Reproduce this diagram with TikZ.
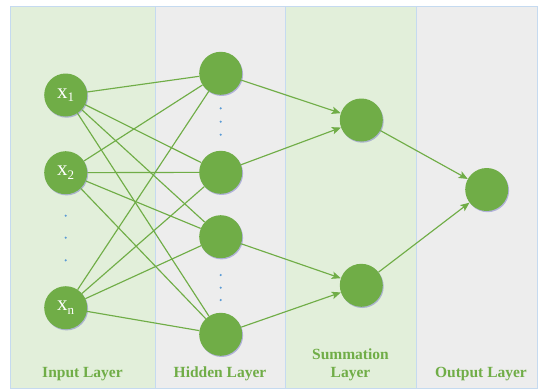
\documentclass[tikz,border=0pt]{standalone}
\usepackage{fontspec}
\setmainfont{Liberation Serif}
\usetikzlibrary{arrows.meta,shadows}
\definecolor{nodegreen}{HTML}{70AD47}
\definecolor{panelgreen}{HTML}{E2EFDA}
\definecolor{panelgray}{HTML}{EDEDED}
\definecolor{panelline}{HTML}{C5DAF0}
\definecolor{dotblue}{HTML}{5B9BD5}
\newcommand\inputlabel[1]{\fontsize{21}{21}\selectfont x\raisebox{-3.5pt}{\fontsize{13}{13}\selectfont #1}}
\begin{document}
\begin{tikzpicture}[x=1pt,y=-1pt,
  neuron/.style={circle, fill=nodegreen, minimum size=43pt, inner sep=0pt, text=white,
    drop shadow={shadow xshift=0.9pt, shadow yshift=-1.2pt, fill=blue!45!gray, opacity=0.35}},
  link/.style={draw=nodegreen, line width=1.15pt},
  flow/.style={link, -{Stealth[length=9pt,width=7.5pt,inset=2pt]}},
  layerlabel/.style={font=\fontsize{15.5}{16}\selectfont\bfseries, text=nodegreen, anchor=base},
  panel/.style={draw=panelline, line width=1pt}]
  \useasboundingbox[fill=white] (0,0) rectangle (538,391);

  % layer panels
  \fill[panelgreen] (10,6) rectangle (155,388);
  \fill[panelgray] (155,6) rectangle (285,388);
  \fill[panelgreen] (285,6) rectangle (416,388);
  \fill[panelgray] (416,6) rectangle (537,388);
  \draw[panel] (10,6) rectangle (537,388);
  \draw[panel] (155,6) -- (155,388);
  \draw[panel] (285,6) -- (285,388);
  \draw[panel] (416,6) -- (416,388);

  % neurons
  \node[neuron] (x1) at (65.7,95) {\inputlabel{1}};
  \node[neuron] (x2) at (65.7,172.7) {\inputlabel{2}};
  \node[neuron] (xn) at (65.7,307.7) {\inputlabel{n}};
  \node[neuron] (h1) at (220.7,73.3) {};
  \node[neuron] (h2) at (220.7,172.3) {};
  \node[neuron] (h3) at (220.7,236.7) {};
  \node[neuron] (h4) at (220.7,334.3) {};
  \node[neuron] (s1) at (361.3,120) {};
  \node[neuron] (s2) at (361.3,285.3) {};
  \node[neuron] (o) at (486.7,189.5) {};

  % ellipsis dots
  \foreach \y in {215.7,237.7,260.3} \fill[dotblue] (65.7,\y) circle (1.2pt);
  \foreach \y in {108.3,121.7,134.7} \fill[dotblue] (220.7,\y) circle (1.2pt);
  \foreach \y in {275,287.7,300} \fill[dotblue] (220.7,\y) circle (1.2pt);

  % input to hidden, fully connected
  \foreach \i in {x1,x2,xn}
    \foreach \h in {h1,h2,h3,h4}
      \draw[link] (\i) -- (\h);

  % hidden to summation
  \draw[flow] (h1) -- (s1);
  \draw[flow] (h2) -- (s1);
  \draw[flow] (h3) -- (s2);
  \draw[flow] (h4) -- (s2);

  % summation to output
  \draw[flow] (s1) -- (o);
  \draw[flow] (s2) -- (o);

  % layer captions
  \node[layerlabel] (lin) at (82.5,377) {Input Layer};
  \node[layerlabel] (lhid) at (220,377) {Hidden Layer};
  \node[layerlabel] (lsum) at (350.5,359.3) {Summation};
  \node[layerlabel] (lsum2) at (350.5,377) {Layer};
  \node[layerlabel] (lout) at (481,377) {Output Layer};
\end{tikzpicture}
\end{document}
